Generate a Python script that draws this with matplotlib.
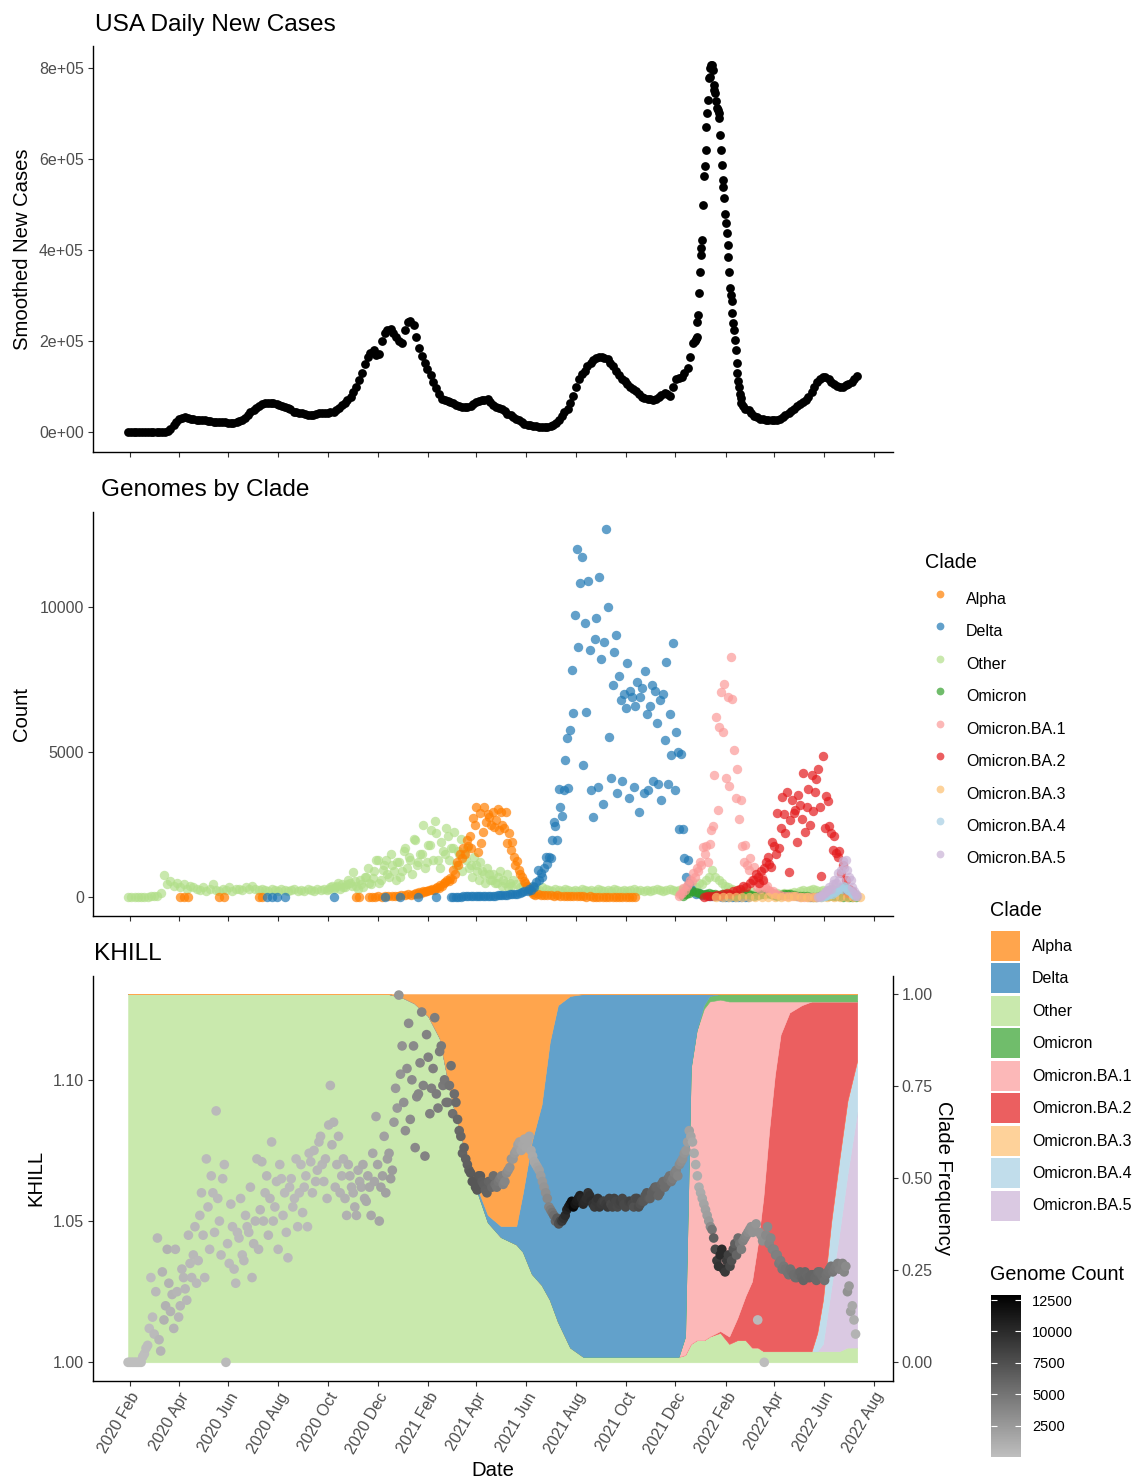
import numpy as np
import pandas as pd
import matplotlib
matplotlib.use("Agg")
import matplotlib.pyplot as plt
import matplotlib.dates as mdates
from matplotlib.lines import Line2D
from matplotlib.patches import Patch
from matplotlib.colors import LinearSegmentedColormap, to_rgb
from matplotlib.ticker import FuncFormatter

plt.rcParams['font.family'] = ['Liberation Sans', 'DejaVu Sans']

W, H, DPI = 1136, 1484, 100

# ---------------- panel 1: USA smoothed new cases (thousands) ----------------
cases_weekly_start = "2020-01-30"   # one value per week
cases_weekly = [0, 0, 0, 0, 0, 0, 0.5, 2, 15, 30,
                33, 30, 28, 27, 25, 23, 22, 22, 21, 22,
                27, 38, 49, 58, 64, 65, 62, 58, 54, 45,
                43, 41, 37, 41, 42, 43, 45, 54, 64, 78,
                100, 130, 165, 180, 172, 218, 226, 210, 195, 242,
                235, 185, 152, 125, 98, 72, 68, 65, 57, 55,
                58, 67, 70, 72, 60, 53, 46, 37, 30, 22,
                17, 14, 12, 12, 13, 20, 35, 52, 80, 118,
                135, 153, 163, 166, 160, 145, 125, 112, 100, 90,
                78, 73, 71, 78, 86, 80, 118, 122, 140, 195]
cases_midweek_start = "2020-02-02"  # the mid-week readings between the above
cases_midweek = [0, 0, 0, 0, 0, 0.2, 1, 8, 23, 32,
                 32, 29, 27, 26, 24, 22, 22, 21, 21, 24,
                 32, 44, 54, 61, 65, 64, 60, 56, 50, 44,
                 42, 39, 39, 42, 42, 44, 49, 59, 71, 88,
                 115, 150, 175, 170, 200, 224, 218, 200, 225, 245,
                 210, 168, 138, 110, 84, 70, 66, 60, 56, 56,
                 62, 69, 71, 66, 56, 50, 41, 33, 26, 19,
                 15, 13, 12, 12, 16, 27, 44, 65, 100, 128,
                 145, 158, 165, 163, 153, 135, 118, 106, 95, 84,
                 75, 72, 74, 82, 84, 100, 120, 130, 165]
cases_daily_start = "2021-12-25"    # one value per day over the omicron wave
cases_daily = [200, 205, 210, 243, 258, 305, 352, 390, 404, 423,
               499, 562, 584, 620, 670, 701, 729, 777, 780, 799,
               807, 806, 795, 762, 750, 744, 726, 712, 708, 700,
               690, 652, 620, 587, 554, 539, 513, 480, 459, 437,
               410, 385, 352, 316, 301, 287, 261, 239, 224, 202,
               181, 153, 129, 112, 100, 85, 75, 64]
cases_late_start = "2022-02-22"     # weekly again
cases_late = [58, 48, 36, 30, 28, 27, 28, 33, 42, 52,
              62, 70, 88, 110, 122, 118, 105, 100, 103, 110, 124]
cases_late_mid_start = "2022-02-25"
cases_late_mid = [52, 42, 33, 29, 27, 27, 30, 37, 47, 57,
                  66, 78, 100, 118, 122, 110, 102, 100, 106, 116]

# ---------------- panel 2: genomes by clade ----------------
clade_names = ["Alpha", "Delta", "Other", "Omicron", "Omicron.BA.1",
               "Omicron.BA.2", "Omicron.BA.3", "Omicron.BA.4", "Omicron.BA.5"]
clade_colors = ["#FF7F00", "#1F78B4", "#B2DF8A", "#33A02C", "#FB9A99",
                "#E31A1C", "#FDBF6F", "#A6CEE3", "#CAB2D6"]

other_counts_a = [0, 0, 0, 5, 10, 10, 20, 30, 40, 60,
                  150, 770, 450,
                  550, 400, 500, 350, 450, 300, 400, 350,
                  300, 250, 350, 200, 300, 450, 250, 200, 300, 250, 350, 200, 280, 300, 250, 350, 300, 400, 300, 250,
                  300, 250, 200, 300, 250, 200, 300, 250, 200, 250, 300, 200, 250, 200, 300, 250, 200, 300, 250, 300,
                  250, 350, 300, 400, 300, 350, 450,
                  500, 880, 400, 600, 350, 700, 500, 650,
                  1280, 500, 940, 1300, 700, 1100, 600, 1200, 900, 1680, 1400, 800, 1970, 1200, 1500, 1000,
                  1800, 2300, 2630, 1300, 1900, 1500, 2100, 1700, 2250, 1600, 2000, 1500, 1700, 1100, 1400,
                  900, 1200, 800, 1000, 600, 800, 500, 900, 600, 800, 500, 600,
                  450, 350, 400, 300, 350, 250, 300, 250, 350, 300, 250, 200, 300, 250, 200, 300, 250, 200, 250, 200, 300, 250,
                  200, 250, 200, 300, 250, 200, 250, 200, 300, 250, 200, 250, 200, 250, 300, 200, 250, 200, 250, 200,
                  250, 300, 250, 200, 250, 300, 250, 200, 250, 300,
                  300, 350, 400, 350, 500, 450, 600, 700, 940, 700, 600, 500, 400, 350, 300,
                  200, 250, 150, 200, 150, 200, 100, 150, 100, 150, 100, 150, 100, 150, 120,
                  150, 120, 150, 180, 150, 200, 250, 200, 250, 300, 250, 200, 250, 200, 250, 300, 250, 200, 150, 200,
                  150, 100, 80]
other_counts_b = [300, 400, 350, 500, 450, 350, 600, 400, 550, 300, 450,
                  700, 1000, 450, 900, 1300, 600, 1100, 800, 1500, 900, 1200, 700, 1600, 1000, 1300, 2000, 1100,
                  1500, 2500, 1200,
                  1800, 1300, 2200, 1000, 1600, 2400, 1300, 1700, 1100, 1500, 900, 1300, 1000, 700, 1100, 600,
                  900, 500, 800, 600,
                  500, 700, 400, 500, 350, 400]

alpha_early_dates = ["2020-04-03", "2020-04-08", "2020-04-13", "2020-05-20", "2020-05-27",
                     "2020-07-09", "2020-07-12", "2020-11-04", "2020-11-08"]
alpha_early_counts = [0, 0, 0, 0, 0, 0, 0, 0, 0]
alpha_counts_a = [10, 20, 15, 30, 25, 40, 30, 50, 60, 50, 80, 70, 100, 90]
alpha_counts_b = [120, 150, 130, 180, 160, 200, 180, 220, 200, 250,
                  240, 290, 260, 320, 350, 330, 420, 400, 490, 520,
                  580, 560, 650, 620, 940, 800, 1210, 1100, 1500, 1350,
                  1700, 1500, 1970, 1750, 2100, 1700, 2720, 2500, 3120, 1570,
                  2900, 1860, 2260, 3120, 2600, 2850, 2770, 2500, 2950, 2430,
                  2650, 3040, 2300, 2950, 2490, 2380, 2950, 1870, 2200, 1630,
                  1900, 1400, 1110, 1250, 940, 800, 710, 550, 490, 400,
                  320, 250, 180, 120, 80]
alpha_counts_c = [100, 80, 90, 70, 80, 60, 70, 50, 60, 40, 50, 40, 30, 40, 30, 20, 30, 20, 15, 20,
                  10, 15, 10, 10, 5, 10, 5, 5, 3, 5, 2]

delta_early_dates = ["2020-07-18", "2020-07-24", "2020-07-31", "2020-08-10", "2020-10-08",
                     "2020-12-10", "2020-12-28", "2021-01-20", "2021-02-10"]
delta_early_counts = [0, 0, 0, 0, 0, 0, 0, 0, 0]
delta_counts_a = [15, 20, 20, 25, 25, 30, 30, 30, 35, 35, 40, 40, 45, 45, 50, 50, 55, 60, 60, 65,
                  70, 75, 80, 90, 100, 110, 120, 130, 150, 170, 200]
delta_counts_b = [220, 300, 260, 400, 350, 520, 940, 600, 850, 700,
                  1000, 1400, 1150, 1400, 1350, 1970, 2600, 2450, 1970, 3720,
                  3120, 2800, 3700, 4720, 5470, 3750, 5760, 7820, 6330, 9710,
                  11970, 8620, 10800, 11720, 4550, 9430, 6390, 10900, 8500, 3700,
                  2770, 8900, 9600, 3800, 11010, 8200, 3200, 8800, 12660, 10000,
                  5530, 4100, 7300, 8450, 9030, 3600, 7600, 6800, 4000, 7000,
                  6500, 8060, 3400, 7100, 6900, 3800, 6580, 7400, 2950, 6900,
                  7200, 3600, 7800, 6300, 3700, 6600, 7300, 4000, 7100, 6000,
                  3900, 6800, 3350, 7000, 5400, 8100, 3900, 6300, 4900, 8740,
                  3700, 5700, 5000, 2340, 4930, 2340, 1340, 710, 1300, 500,
                  300, 200]
delta_counts_c = [100, 150, 80, 120, 60, 50, 40, 30, 20, 20, 10, 10, 5, 5, 3, 2, 2]

omicron_counts = [50, 100, 150, 200, 180, 150, 120, 100, 150, 120,
                  100, 80, 100, 120, 100, 80, 60, 80, 100, 120,
                  100, 80, 60, 80, 100, 120, 150, 100, 80, 60,
                  80, 100, 120, 100, 80, 60, 50, 40, 30, 20,
                  10, 5, 30, 50, 40, 60, 50, 40, 30, 20,
                  30, 20, 10, 5]
ba1_counts = [60, 120, 150, 320, 250, 400, 450, 600, 550, 830,
              700, 1000, 900, 1200, 1100, 1730, 1500, 1750, 1200, 1840,
              2330, 2460, 4200, 6200, 3000, 5850, 7070, 5690, 7340, 4100,
              6900, 3830, 8260, 6820, 5070, 3400, 4400, 2700, 3350, 1750,
              1210, 1800, 1110, 940, 1350, 600, 1050, 600, 370, 450,
              300, 710, 540, 370, 400, 250, 200, 150, 200, 120,
              100]
ba1_tail = [80, 60, 50, 40, 30, 20, 20, 10, 10, 5]
ba2_counts_a = [20, 40, 30, 60, 80, 60, 100, 150, 120, 200, 250, 300, 400, 350, 500, 600, 800]
ba2_counts_b = [700, 500, 900, 600, 1000, 1200, 1400, 1160, 1050, 1910,
                1750, 1500, 2910, 1680, 2400, 3460, 2870, 2200, 3630, 880,
                2660, 3350, 2900, 3000, 1910, 3520, 3180, 2700, 4270, 2260,
                3100, 3730, 2500, 4200, 2980, 3630, 4070, 4410, 3100, 740,
                4860, 2400, 3500, 3300, 2450, 2200, 1630, 2100, 1510, 1400,
                1600, 830, 1100, 370, 600, 150, 300, 100, 200, 60]
ba3_counts = [5, 10, 20, 10, 5, 10, 15, 20, 10, 5, 10, 20, 30, 20, 10, 5, 10, 20, 15, 10, 5, 5, 3]
ba4_counts = [10, 30, 50, 60, 80, 100, 150, 120, 200, 180, 250, 300, 350, 280, 400, 350, 300, 250,
              200, 150, 100, 50]
ba5_counts = [20, 40, 60, 100, 150, 200, 250, 350, 300, 450, 600, 500, 830, 600, 940, 1260, 1000,
              1280, 940, 700, 600, 370, 200, 100, 40]

# ---------------- panel 3: clade frequencies and KHILL ----------------
freq_dates = ["2020-01-30", "2020-12-15", "2021-01-01", "2021-01-15", "2021-02-01", "2021-02-15",
              "2021-03-01", "2021-03-15", "2021-04-01", "2021-04-15", "2021-05-01", "2021-05-20",
              "2021-05-28", "2021-06-08", "2021-06-20", "2021-06-30", "2021-07-10", "2021-07-25",
              "2021-08-10", "2021-12-05", "2021-12-13", "2021-12-20", "2021-12-27", "2022-01-05",
              "2022-01-12", "2022-01-25", "2022-02-05", "2022-02-15", "2022-02-25", "2022-03-05",
              "2022-03-12", "2022-03-19", "2022-03-26", "2022-04-02", "2022-04-09", "2022-04-20",
              "2022-05-05", "2022-05-17", "2022-05-24", "2022-05-31", "2022-06-10", "2022-06-20",
              "2022-06-30", "2022-07-12"]
freq_other = [1, 1, .99, .975, .94, .88, .72, .6, .47, .38, .34, .32, .30, .24, .21, .17, .11, .04, .015,
              .015, .02, .05, .06, .06, .07, .08, .05, .06, .06, .04, .04, .03, .03, .03, .03, .03, .03,
              .03, .03, .03, .03, .03, .04, .04]
freq_alpha = [0, 0, .01, .025, .06, .12, .28, .4, .52, .6, .63, .63, .54, .40, .30, .13, .03, .005,
              0, 0, 0, 0, 0, 0, 0, 0, 0, 0, 0, 0, 0, 0, 0, 0, 0, 0, 0, 0, 0, 0, 0, 0, 0, 0]
freq_delta = [0, 0, 0, 0, 0, 0, 0, 0, .01, .02, .03, .05, .16, .36, .49, .70, .86, .955, .985,
              .985, .93, .2, .10, .03, .005, 0, 0, 0, 0, 0, 0, 0, 0, 0, 0, 0, 0, 0, 0, 0, 0, 0, 0, 0]
freq_omicron = [0, 0, 0, 0, 0, 0, 0, 0, 0, 0, 0, 0, 0, 0, 0, 0, 0, 0, 0, 0, 0, 0, 0,
                .01, .015, .015, .02, .02, .02, .02, .02, .02, .02, .02, .02, .02, .02, .02, .02,
                .02, .02, .02, .02, .02]
freq_ba1 = [0, 0, 0, 0, 0, 0, 0, 0, 0, 0, 0, 0, 0, 0, 0, 0, 0, 0, 0, 0,
            .05, .75, .84, .90, .91, .90, .91, .86, .80, .76, .66, .53, .35, .20, .09, .03, .01,
            0, 0, 0, 0, 0, 0, 0]
freq_ba2 = [0, 0, 0, 0, 0, 0, 0, 0, 0, 0, 0, 0, 0, 0, 0, 0, 0, 0, 0, 0, 0, 0, 0, 0, 0,
            .005, .02, .06, .12, .18, .28, .42, .60, .75, .86, .92, .94, .95, .90, .81, .60, .43, .27, .16]
freq_ba3 = [0, 0, 0, 0, 0, 0, 0, 0, 0, 0, 0, 0, 0, 0, 0, 0, 0, 0, 0, 0, 0, 0,
            0, 0, 0, 0, 0, 0, 0, 0, 0, 0, 0, 0, 0, 0, 0, 0, 0, 0, 0, 0, 0, 0]
freq_ba4 = [0, 0, 0, 0, 0, 0, 0, 0, 0, 0, 0, 0, 0, 0, 0, 0, 0, 0, 0, 0, 0, 0, 0, 0, 0, 0, 0, 0, 0,
            0, 0, 0, 0, 0, 0, 0, 0, 0, .05, .12, .18, .20, .20, .14]
freq_ba5 = [0, 0, 0, 0, 0, 0, 0, 0, 0, 0, 0, 0, 0, 0, 0, 0, 0, 0, 0, 0, 0, 0, 0, 0, 0, 0, 0, 0, 0,
            0, 0, 0, 0, 0, 0, 0, 0, 0, 0, .02, .17, .32, .47, .64]

khill_start = "2020-01-30"   # one value every 4 days
khill = [1.000, 1.000, 1.000, 1.000, 1.000, 1.003,
         1.006, 1.030, 1.010, 1.044, 1.004, 1.015, 1.040,
         1.018, 1.012, 1.025, 1.020, 1.030, 1.022, 1.035,
         1.038, 1.028, 1.052, 1.045, 1.072, 1.040, 1.060,
         1.089, 1.050, 1.065, 1.000, 1.035, 1.048, 1.028,
         1.044, 1.038, 1.052, 1.046, 1.030, 1.050, 1.040,
         1.071, 1.060, 1.045, 1.078, 1.055, 1.040, 1.065,
         1.060, 1.037, 1.065, 1.058, 1.048, 1.070, 1.062,
         1.048, 1.071, 1.075, 1.068, 1.080, 1.064, 1.058,
         1.098, 1.085, 1.070, 1.060, 1.072, 1.052, 1.066,
         1.060, 1.052, 1.064, 1.070, 1.057, 1.062, 1.074,
         1.087, 1.050, 1.066, 1.060, 1.074, 1.068, 1.097,
         1.130, 1.112, 1.082, 1.120, 1.100, 1.076, 1.095,
         1.124, 1.073, 1.108, 1.097, 1.122, 1.090, 1.112,
         1.100, 1.092, 1.105, 1.095, 1.086, 1.080, 1.076,
         1.070, 1.067, 1.064, 1.061, 1.066, 1.063, 1.060,
         1.064, 1.066, 1.062, 1.065, 1.063, 1.067, 1.069,
         1.072, 1.075, 1.078, 1.077, 1.076, 1.080, 1.073,
         1.070, 1.068, 1.064, 1.060, 1.055, 1.053, 1.050,
         1.049, 1.050, 1.052, 1.055, 1.057, 1.056, 1.058,
         1.058, 1.057, 1.060, 1.057, 1.055, 1.058, 1.056,
         1.057, 1.055, 1.056, 1.058, 1.055, 1.057, 1.056,
         1.056, 1.057, 1.055, 1.058, 1.056, 1.057, 1.060,
         1.058, 1.061, 1.062, 1.060, 1.064, 1.063, 1.066,
         1.065, 1.068, 1.070, 1.072, 1.075, 1.082, 1.078,
         1.070, 1.062, 1.058, 1.054, 1.050, 1.047, 1.040,
         1.034, 1.040, 1.032, 1.038, 1.036, 1.042, 1.044,
         1.040, 1.044, 1.046, 1.048, 1.047, 1.015, 1.045,
         1.000, 1.048, 1.044, 1.040, 1.038, 1.036, 1.034,
         1.032, 1.033, 1.031, 1.030, 1.032, 1.029, 1.031,
         1.030, 1.031, 1.029, 1.032, 1.030, 1.031, 1.033,
         1.032, 1.034, 1.033, 1.035, 1.034, 1.027, 1.020,
         1.010]
khill_count = [5, 10, 10, 20, 30, 50, 80, 150, 300, 500, 700, 900, 900,
               800, 700, 600, 600, 500, 500, 400, 450, 400, 350, 400, 350, 300, 300, 300, 350, 300, 300,
               250, 300, 300, 350, 350, 400, 400, 450, 500, 500,
               500, 450, 500, 450, 400, 400, 350, 350, 300, 300, 350, 300, 350, 400, 350, 400, 450, 500,
               500, 550, 600, 650, 700, 700, 800, 800, 900, 1000, 1000, 1100, 1200, 1300, 1400, 1500, 1500,
               1700, 1800, 2000, 2000, 2200, 2400, 2500, 2800, 3000, 3200, 3400, 3500, 3600, 3800, 4000,
               4000, 4200, 4200, 4400, 4500, 4600,
               4800, 5000, 5200, 5500, 5800, 6000, 6200, 6500, 6800, 7000, 7000, 6800, 6500, 6200,
               6000, 5500, 5000, 4500, 4000, 3500, 3000, 2600, 2200, 1800, 1600, 1500, 1500, 1400,
               1600, 2000, 2500, 3200, 4000, 5000, 6000,
               7500, 9000, 10000, 11000, 12000, 11500, 11000, 10500, 10000, 9500, 10000, 9000, 9500, 9000,
               8500, 9000, 8000, 8500, 8000, 8500, 8000, 8000, 8500, 7500, 8000, 7500, 7000, 7000, 6500,
               6500, 6000, 6000, 5500, 5500, 5000,
               4500, 4000, 3500, 3000, 2500, 2000, 1500, 1200, 1200, 1500,
               2000, 2500, 5000, 8000, 9500, 10000, 9000, 8500, 7500, 6500, 5500,
               4500, 4000, 3500, 3000, 3000, 300, 3000,
               100, 3500, 3800, 4000, 4200, 4500, 4800,
               5000, 5200, 5500, 5500, 5800, 6000, 5800, 6000, 6000, 5800, 5500, 5500, 5200, 5000,
               4800, 4500, 4200, 4000, 3500, 2500, 1500, 800]
khill_b_start = "2020-02-01"   # the days in between, also every 4 days
khill_b = [1.000, 1.000, 1.000, 1.000, 1.002, 1.005,
           1.012, 1.016, 1.025, 1.008, 1.032, 1.020, 1.028,
           1.024, 1.040, 1.016, 1.033, 1.026, 1.045, 1.030,
           1.048, 1.036, 1.060, 1.030, 1.055, 1.066, 1.046,
           1.058, 1.038, 1.070, 1.042, 1.056, 1.033, 1.046,
           1.058, 1.036, 1.048, 1.062, 1.042, 1.072, 1.054,
           1.050, 1.066, 1.058, 1.050, 1.064, 1.070, 1.052,
           1.046, 1.062, 1.055, 1.072, 1.060, 1.053, 1.066,
           1.074, 1.060, 1.064, 1.078, 1.070, 1.072, 1.084,
           1.077, 1.062, 1.080, 1.066, 1.058, 1.070, 1.062,
           1.055, 1.068, 1.062, 1.058, 1.066, 1.052, 1.064,
           1.070, 1.062, 1.080, 1.072, 1.065, 1.085, 1.090,
           1.102, 1.092, 1.104, 1.086, 1.112, 1.094, 1.106,
           1.098, 1.116, 1.088, 1.104, 1.095, 1.110, 1.098,
           1.092, 1.098, 1.088, 1.092, 1.082, 1.074, 1.072,
           1.068, 1.064, 1.062, 1.066, 1.064, 1.061, 1.064,
           1.062, 1.063, 1.064, 1.066, 1.064, 1.068, 1.072,
           1.074, 1.077, 1.075, 1.079, 1.078, 1.075, 1.071,
           1.069, 1.066, 1.062, 1.058, 1.054, 1.052, 1.051,
           1.050, 1.051, 1.054, 1.056, 1.055, 1.057, 1.059,
           1.056, 1.058, 1.059, 1.056, 1.057, 1.055, 1.057,
           1.056, 1.058, 1.055, 1.057, 1.056, 1.058, 1.055,
           1.057, 1.056, 1.058, 1.055, 1.057, 1.059, 1.058,
           1.060, 1.062, 1.059, 1.063, 1.062, 1.065, 1.064,
           1.067, 1.066, 1.071, 1.074, 1.078, 1.080, 1.074,
           1.066, 1.060, 1.056, 1.052, 1.048, 1.044, 1.036,
           1.038, 1.033, 1.036, 1.034, 1.040, 1.038, 1.042,
           1.043, 1.045, 1.047, 1.046, 1.049, 1.046, 1.043,
           1.045, 1.042, 1.040, 1.038, 1.035, 1.033, 1.033,
           1.031, 1.032, 1.030, 1.031, 1.030, 1.032, 1.030,
           1.031, 1.030, 1.032, 1.031, 1.029, 1.032, 1.034,
           1.033, 1.035, 1.033, 1.032, 1.025, 1.018, 1.015]
khill_b_count = [5, 10, 15, 25, 40, 60, 100, 200, 400, 600, 800, 900, 850,
                 750, 650, 600, 550, 500, 450, 420, 420, 380, 380, 370, 330, 300, 300, 320, 330, 300, 280,
                 280, 300, 320, 350, 380, 400, 420, 470, 500, 500,
                 480, 480, 470, 430, 400, 380, 350, 330, 300, 320, 330, 320, 370, 380, 380, 420, 480, 500,
                 520, 580, 620, 680, 700, 750, 800, 850, 950, 1000, 1050, 1150, 1250, 1350, 1450, 1500, 1600,
                 1750, 1900, 2000, 2100, 2300, 2450, 2600, 2900, 3100, 3300, 3450, 3550, 3700, 3900, 4000,
                 4100, 4200, 4300, 4450, 4550, 4700,
                 4900, 5100, 5300, 5600, 5900, 6100, 6300, 6600, 6900, 7000, 6900, 6600, 6300, 6100,
                 5800, 5200, 4800, 4200, 3800, 3200, 2800, 2400, 2000, 1700, 1500, 1500, 1450, 1500,
                 1800, 2200, 2800, 3600, 4500, 5500, 6800,
                 8000, 9500, 10500, 11500, 12300, 11200, 10800, 10200, 9800, 9800, 9500, 9200, 9200, 8800,
                 8800, 8500, 8200, 8200, 8200, 8200, 8000, 8200, 8000, 7800, 7800, 7200, 7000, 6800, 6500,
                 6200, 6000, 5800, 5500, 5200, 4800,
                 4200, 3800, 3200, 2800, 2200, 1800, 1300, 1200, 1300, 1800,
                 2200, 3500, 6500, 9000, 10000, 9500, 8800, 8000, 7000, 6000, 5000,
                 4200, 3800, 3200, 3000, 2800, 3000, 3200,
                 3600, 3900, 4100, 4300, 4600, 4900, 5000,
                 5100, 5300, 5500, 5600, 5900, 5900, 5900, 6000, 5900, 5600, 5500, 5300, 5100, 4900,
                 4600, 4300, 4100, 3800, 3000, 2000, 1200]


def series_dates(start, step, n):
    return pd.date_range(start, periods=n, freq=f"{step}D")


def faded(c, a=0.7):
    return tuple(a * np.array(to_rgb(c)) + (1 - a))


fig = plt.figure(figsize=(W / DPI, H / DPI), dpi=DPI)


def px_axes(left, top, right, bottom):
    return fig.add_axes([left / W, 1 - bottom / H, (right - left) / W, (bottom - top) / H])


ax1 = px_axes(93, 46, 892.7, 451.7)
ax2 = px_axes(93, 511.7, 892.7, 915.7)
ax3 = px_axes(93, 975.7, 892.7, 1380.7)

x_lo = pd.Timestamp("2019-12-18")
x_hi = pd.Timestamp("2022-08-24 12:00")
month_ticks = mdates.MonthLocator(bymonth=[2, 4, 6, 8, 10, 12])

TICK_KW = dict(direction='out', length=3.6, width=0.8, color='#333333',
               labelcolor='#4D4D4D', labelsize=11.5, pad=3)


def style_axis(ax):
    for s in ['top', 'right']:
        ax.spines[s].set_visible(False)
    for s in ['left', 'bottom']:
        ax.spines[s].set_linewidth(1.0)
    ax.tick_params(**TICK_KW)
    ax.set_xlim(x_lo, x_hi)
    ax.xaxis.set_major_locator(month_ticks)
    ax.xaxis.set_major_formatter(mdates.DateFormatter('%Y %b'))


# ---- panel 1 ----
style_axis(ax1)
for start, step, vals in [(cases_weekly_start, 7, cases_weekly),
                          (cases_midweek_start, 7, cases_midweek),
                          (cases_daily_start, 1, cases_daily),
                          (cases_late_start, 7, cases_late),
                          (cases_late_mid_start, 7, cases_late_mid)]:
    ax1.scatter(series_dates(start, step, len(vals)), np.array(vals) * 1000,
                s=40, color='black', linewidths=0)
ax1.set_ylim(-42600, 847600)
ax1.set_yticks([0, 200000, 400000, 600000, 800000])
ax1.yaxis.set_major_formatter(FuncFormatter(lambda v, p: f"{v:.0e}"))
ax1.tick_params(axis='x', labelbottom=False)

# ---- panel 2 ----
style_axis(ax2)
genome_series = {
    "Other": [(series_dates("2020-01-30", 4, len(other_counts_a)), other_counts_a),
              (series_dates("2020-10-02", 4, len(other_counts_b)), other_counts_b)],
    "Alpha": [(pd.to_datetime(alpha_early_dates), alpha_early_counts),
              (series_dates("2020-11-20", 4, len(alpha_counts_a)), alpha_counts_a),
              (series_dates("2021-01-15", 2, len(alpha_counts_b)), alpha_counts_b),
              (series_dates("2021-06-15", 4, len(alpha_counts_c)), alpha_counts_c)],
    "Delta": [(pd.to_datetime(delta_early_dates), delta_early_counts),
              (series_dates("2021-03-01", 3, len(delta_counts_a)), delta_counts_a),
              (series_dates("2021-06-03", 2, len(delta_counts_b)), delta_counts_b),
              (series_dates("2021-12-26", 4, len(delta_counts_c)), delta_counts_c)],
    "Omicron": [(series_dates("2021-12-10", 4, len(omicron_counts)), omicron_counts)],
    "Omicron.BA.1": [(series_dates("2021-12-05", 2, len(ba1_counts)), ba1_counts),
                     (series_dates("2022-04-08", 5, len(ba1_tail)), ba1_tail)],
    "Omicron.BA.2": [(series_dates("2022-01-05", 4, len(ba2_counts_a)), ba2_counts_a),
                     (series_dates("2022-03-12", 2, len(ba2_counts_b)), ba2_counts_b)],
    "Omicron.BA.3": [(series_dates("2022-01-20", 8, len(ba3_counts)), ba3_counts)],
    "Omicron.BA.4": [(series_dates("2022-05-28", 2, len(ba4_counts)), ba4_counts)],
    "Omicron.BA.5": [(series_dates("2022-05-25", 2, len(ba5_counts)), ba5_counts)],
}
draw_order = ["Other", "Alpha", "Delta", "Omicron", "Omicron.BA.1", "Omicron.BA.2",
              "Omicron.BA.3", "Omicron.BA.4", "Omicron.BA.5"]
for name in draw_order:
    col = clade_colors[clade_names.index(name)]
    for d, v in genome_series[name]:
        ax2.scatter(d, v, s=46, color=col, alpha=0.7, linewidths=0)
ax2.set_ylim(-633, 13269)
ax2.set_yticks([0, 5000, 10000])
ax2.tick_params(axis='x', labelbottom=False)

# ---- panel 3 ----
for s in ['top', 'left']:
    ax3.spines[s].set_visible(False)
for s in ['right', 'bottom']:
    ax3.spines[s].set_linewidth(1.0)
ax3.tick_params(**TICK_KW)
ax3.set_xlim(x_lo, x_hi)
ax3.xaxis.set_major_locator(month_ticks)
ax3.xaxis.set_major_formatter(mdates.DateFormatter('%Y %b'))

stack_names = ["Other", "Omicron.BA.5", "Omicron.BA.4", "Omicron.BA.3", "Omicron.BA.2",
               "Omicron.BA.1", "Omicron", "Delta", "Alpha"]
stack_vals = [freq_other, freq_ba5, freq_ba4, freq_ba3, freq_ba2, freq_ba1,
              freq_omicron, freq_delta, freq_alpha]
stack_cols = [faded(clade_colors[clade_names.index(n)]) for n in stack_names]
polys = ax3.stackplot(pd.to_datetime(freq_dates), *stack_vals, colors=stack_cols)
for p, c in zip(polys, stack_cols):
    p.set_edgecolor(c)
    p.set_linewidth(0.4)
ax3.set_ylim(-0.05, 1.05)

ax3k = ax3.twinx()
ax3.yaxis.tick_right()
ax3k.yaxis.tick_left()
ax3.set_yticks([0, 0.25, 0.5, 0.75, 1.0])
ax3.yaxis.set_major_formatter(FuncFormatter(lambda v, p: f"{v:.2f}"))
for s in ['top', 'right', 'bottom']:
    ax3k.spines[s].set_visible(False)
ax3k.spines['left'].set_linewidth(1.0)
ax3k.tick_params(**TICK_KW)

kh = pd.DataFrame({
    "date": list(series_dates(khill_start, 4, len(khill))) + list(series_dates(khill_b_start, 4, len(khill_b))),
    "khill": khill + khill_b,
    "count": khill_count + khill_b_count,
}).sort_values("date")
grey_cmap = LinearSegmentedColormap.from_list("gc", ["#BEBEBE", "#000000"])
sc = ax3k.scatter(kh["date"], kh["khill"], c=kh["count"],
                  cmap=grey_cmap, vmin=0, vmax=12900, s=48, linewidths=0, zorder=3)
ax3k.set_ylim(0.99349, 1.13686)
ax3k.set_yticks([1.00, 1.05, 1.10])
ax3k.yaxis.set_major_formatter(FuncFormatter(lambda v, p: f"{v:.2f}"))
ax3k.set_xlim(x_lo, x_hi)

for lab in ax3.get_xticklabels():
    lab.set_rotation(60)
    lab.set_ha('right')
    lab.set_va('top')
    lab.set_rotation_mode('anchor')

# ---- titles and axis labels ----
fig.text(95 / W, 1 - 31.5 / H, "USA Daily New Cases", fontsize=17.6, va='baseline')
fig.text(101 / W, 1 - 496 / H, "Genomes by Clade", fontsize=17.6, va='baseline')
fig.text(94 / W, 1 - 960 / H, "KHILL", fontsize=17.6, va='baseline')
fig.text(22.5 / W, 1 - 249 / H, "Smoothed New Cases", fontsize=14.6, rotation=90, ha='center', va='center')
fig.text(22 / W, 1 - 713.7 / H, "Count", fontsize=14.6, rotation=90, ha='center', va='center')
fig.text(35.5 / W, 1 - 1178 / H, "KHILL", fontsize=14.6, rotation=90, ha='center', va='center')
fig.text(943 / W, 1 - 1178 / H, "Clade Frequency", fontsize=14.6, rotation=270, ha='center', va='center')
fig.text(493 / W, 1 - 1471 / H, "Date", fontsize=14.6, ha='center', va='center')

# ---- legends ----
LEG_KW = dict(loc='upper left', frameon=False, fontsize=11.5, handlelength=1.83, handleheight=2.51,
              handletextpad=0.73, labelspacing=0.155, borderpad=0, borderaxespad=0)

fig.text(925 / W, 1 - 563 / H, "Clade", fontsize=14.2, va='center')
pt_handles = [Line2D([], [], marker='o', ls='', markersize=5.6, markerfacecolor=c,
                     markeredgecolor='none', alpha=0.7) for c in clade_colors]
fig.legend(pt_handles, clade_names, bbox_to_anchor=(925 / W, 1 - 584 / H), **LEG_KW)

fig.text(990 / W, 1 - 910 / H, "Clade", fontsize=14.2, va='center')
fill_handles = [Patch(facecolor=faded(c), edgecolor='none') for c in clade_colors]
fig.legend(fill_handles, clade_names, bbox_to_anchor=(991 / W, 1 - 931 / H), **LEG_KW)

fig.text(990 / W, 1 - 1275 / H, "Genome Count", fontsize=14.2, va='center')
cax = px_axes(991, 1295, 1021, 1457)
cb = fig.colorbar(sc, cax=cax)
cb.outline.set_visible(False)
cb.set_ticks([2500, 5000, 7500, 10000, 12500])
cax.tick_params(axis='y', direction='in', length=4, width=0.8, color='white',
                left=True, right=True, labelsize=10.5, labelcolor='black', pad=8)

fig.savefig("out.png", dpi=DPI)
